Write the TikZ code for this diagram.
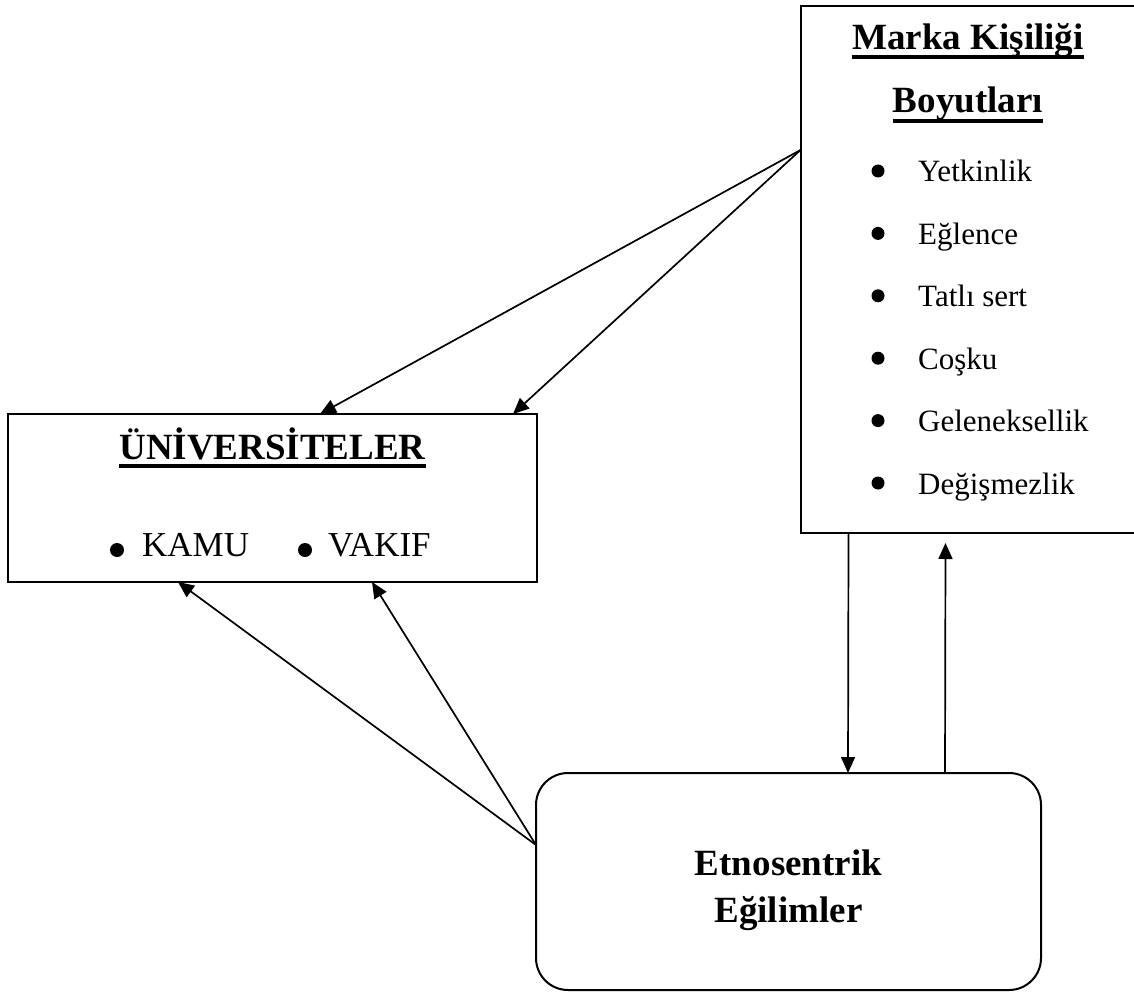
\documentclass[tikz,border=0pt]{standalone}
\usepackage{fontspec}
\setmainfont{Liberation Serif}
\usetikzlibrary{arrows.meta,calc}
\begin{document}
\begin{tikzpicture}[x=1pt,y=-1pt,
  box/.style={draw,line width=2pt,inner sep=0pt,outer sep=0pt},
  conn/.style={line width=1.7pt,-{Triangle[length=16pt,width=14pt]}},
  ttl/.style={anchor=base,inner sep=0pt,font=\fontsize{37}{44}\selectfont\bfseries},
  itm/.style={anchor=base west,inner sep=0pt,font=\fontsize{31}{37}\selectfont},
  uitm/.style={anchor=base west,inner sep=0pt,font=\fontsize{35}{42}\selectfont},
  ul/.style={line width=3.5pt},
  dot/.style={fill=black}]
\useasboundingbox (0,0) rectangle (1134,992);

% boxes
\node[box,minimum width=529pt,minimum height=168pt] (uni) at (272.5,498) {};
\node[box,minimum width=336pt,minimum height=527pt] (mk) at (968.5,269.5) {};
\node[box,rounded corners=32pt,minimum width=505pt,minimum height=217pt] (et) at (788.5,881.5) {};

% right box texts
\node[ttl] (mk1) at (968,50) {Marka Kişiliği};
\node[ttl] (mk2) at (968,113) {Boyutları};
\draw[ul] ($(mk1.base west)+(0,7)$) -- ($(mk1.base east)+(0,7)$);
\draw[ul] ($(mk2.base west)+(0,8)$) -- ($(mk2.base east)+(0,8)$);
\foreach \t [count=\i from 0] in {Yetkinlik,Eğlence,Tatlı sert,Coşku,Geleneksellik,Değişmezlik}{
  \node[itm] (it\i) at (918,{182+62.4*\i}) {\t};
  \fill[dot] (878,{171+62.4*\i}) circle (6.5);
}

% university box texts
\node[ttl] (u1) at (272.5,459) {ÜNİVERSİTELER};
\draw[ul] ($(u1.base west)+(0,7)$) -- ($(u1.base east)+(0,7)$);
\node[uitm] (kamu) at (142,556) {KAMU};
\fill[dot] (117,550) circle (7);
\node[uitm] (vakif) at (328,556) {VAKIF};
\fill[dot] (305,550) circle (7);

% etnosentrik texts
\node[ttl] (e1) at (788.5,875) {Etnosentrik};
\node[ttl] (e2) at (788.5,922) {Eğilimler};

% connectors
\coordinate (mkout) at ($(mk.north west)+(0,144)$);
\coordinate (etout) at ($(et.north west)+(0,72)$);
\draw[conn] (mkout) -- ($(uni.north west)+(312,0)$);
\draw[conn] (mkout) -- ($(uni.north west)+(505,0)$);
\draw[conn] (etout) -- ($(uni.south west)+(170,0)$);
\draw[conn] (etout) -- ($(uni.south west)+(364,0)$);
\draw[conn] ($(mk.south west)+(48,0)$) -- ($(et.north west)+(312,0)$);
\draw[conn] ($(et.north west)+(409,0)$) -- ($(mk.south west)+(145,10)$);
\end{tikzpicture}
\end{document}
